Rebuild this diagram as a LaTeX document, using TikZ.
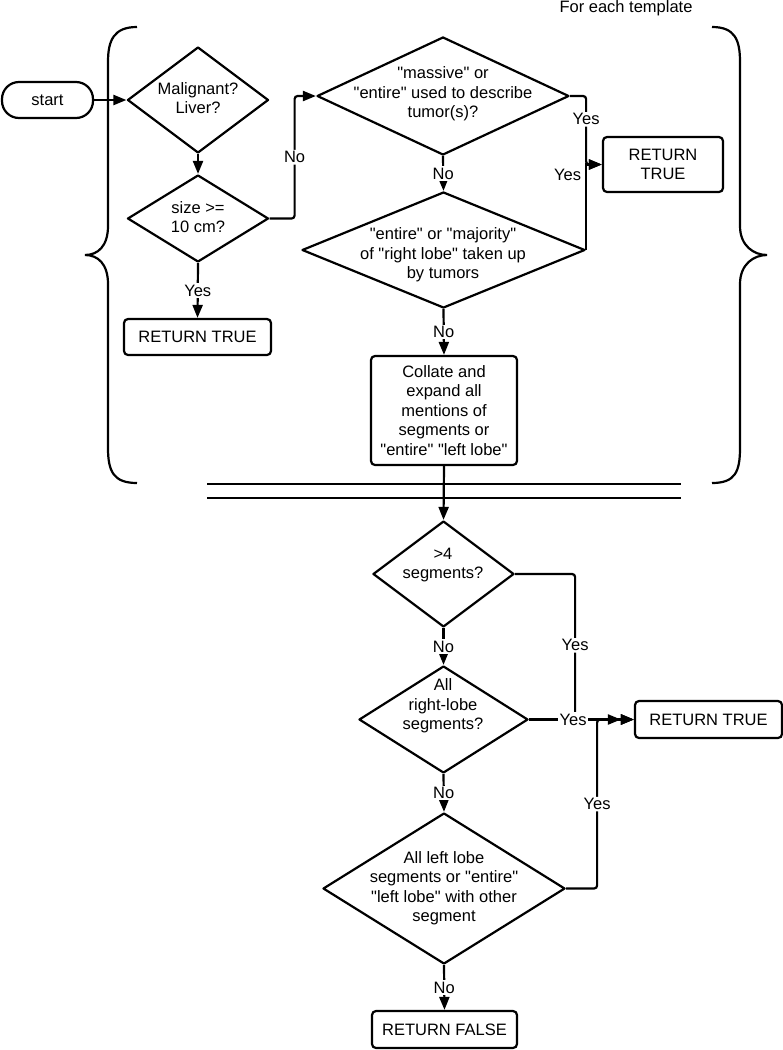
\documentclass[tikz,border=0pt]{standalone}
\usepackage{fontspec}
\setmainfont{Liberation Sans}
\usetikzlibrary{shapes.geometric,arrows.meta}
\newcommand{\diagfont}{\fontsize{16.5}{19.5}\selectfont}
\newcommand{\dq}{\textquotedbl}
\begin{document}
\begin{tikzpicture}[x=1pt,y=-1pt,
  line width=2.2pt,
  dia/.style={draw, shape=diamond, inner sep=0pt, line join=round},
  txt/.style={align=center, font=\diagfont, inner sep=0pt},
  box/.style={draw, rounded corners=4pt, inner sep=0pt, align=center, font=\diagfont},
  arr/.style={-{Triangle[length=13pt,width=10pt]}},
  darr/.style={-{Triangle[length=13pt,width=10pt]Triangle[length=13pt,width=10pt]}},
  lbl/.style={fill=white, inner sep=1.5pt, font=\diagfont},
  plain/.style={inner sep=1pt, font=\diagfont},
  rc/.style={rounded corners=3pt},
]
\useasboundingbox (0,0) rectangle (783,1050);

% title
\node[plain] (title) at (626,8) {For each template};

% braces
\draw (137,27) .. controls (114,27) and (108,40) .. (108,62) -- (108,226)
  .. controls (108,246) and (98,255) .. (85,255)
  .. controls (98,255) and (108,264) .. (108,284) -- (108,448)
  .. controls (108,472) and (114,483) .. (137,483);
\draw (712,27) .. controls (735,27) and (740,40) .. (740,62) -- (740,226)
  .. controls (740,246) and (754,255) .. (767,255)
  .. controls (754,255) and (740,264) .. (740,284) -- (740,448)
  .. controls (740,472) and (735,483) .. (712,483);

% double separator
\draw (207,484) -- (681,484);
\draw (207,498) -- (681,498);

% nodes
\node[box, minimum width=91pt, minimum height=36pt, rounded corners=17pt] (start) at (47.5,100) {start};
\node[dia, minimum width=141pt, minimum height=106pt] (d1) at (198,100) {};
\node[txt] (t1) at (198,98) {Malignant?\\Liver?};
\node[dia, minimum width=141pt, minimum height=87pt] (d2) at (198,218.5) {};
\node[txt] (t2) at (198,217) {size >=\\10 cm?};
\node[box, minimum width=147pt, minimum height=36pt] (r1) at (197.5,337) {RETURN TRUE};
\node[dia, minimum width=252pt, minimum height=118pt] (d3) at (443,96) {};
\node[txt] (t3) at (443,94) {\dq massive\dq{} or\\\dq entire\dq{} used to describe\\tumor(s)?};
\node[box, minimum width=120pt, minimum height=55pt] (r2) at (663,164.5) {RETURN\\TRUE};
\node[dia, minimum width=283pt, minimum height=116pt] (d4) at (443.5,250) {};
\node[txt] (t4) at (443,255) {\dq entire\dq{} or \dq majority\dq\\of \dq right lobe\dq{} taken up\\by tumors};
\node[box, minimum width=146pt, minimum height=109pt] (r3) at (444,410.5) {Collate and\\expand all\\mentions of\\segments or\\\dq entire\dq{} \dq left lobe\dq};
\node[dia, minimum width=141pt, minimum height=106pt] (d5) at (443.5,574) {};
\node[txt] (t5) at (443,565) {>4\\segments?};
\node[dia, minimum width=169pt, minimum height=107pt] (d6) at (443.5,719.5) {};
\node[txt] (t6) at (443,706) {All\\right-lobe\\segments?};
\node[box, minimum width=147pt, minimum height=37pt] (r4) at (708.5,719.5) {RETURN TRUE};
\node[dia, minimum width=242pt, minimum height=151pt] (d7) at (444,888.5) {};
\node[txt] (t7) at (444,888) {All left lobe\\segments or \dq entire\dq\\\dq left lobe\dq{} with other\\segment};
\node[box, minimum width=145pt, minimum height=37pt] (r5) at (444.5,1029.5) {RETURN FALSE};

% connectors
\draw[arr] (start.east) -- (d1.west);
\draw[arr] (d1.south) -- (d2.north);
\draw[arr, rc] (d2.east) -- ++(25,0) |- node[lbl, pos=0.25] {No} (d3.west);
\draw[arr] (d2.south) -- node[lbl] {Yes} (r1.north);
\draw[arr, rc] (d3.east) -- ++(16,0) |- node[lbl, pos=0.17] {Yes} (r2.west);
\draw[arr] (d4.east) |- node[plain, pos=0.44, left=3pt] {Yes} (r2.west);
\draw[arr] (d3.south) -- node[lbl] {No} (d4.north);
\draw[arr] (d4.south) -- node[lbl] {No} (r3.north);
\draw[arr] (r3.south) -- (d5.north);
\draw[arr] (d5.south) -- node[lbl] {No} (d6.north);
\draw[arr, rc] (d5.east) -- ++(60,0) |- node[lbl, pos=0.245] {Yes} (r4.west);
\draw[arr, rc] (d7.east) -- ++(31,0) |- node[lbl, pos=0.25] {Yes} (r4.west);
\draw[darr] (d6.east) -- node[lbl, pos=0.42] {Yes} (r4.west);
\draw[arr] (d6.south) -- node[lbl] {No} (d7.north);
\draw[arr] (d7.south) -- node[lbl] {No} (r5.north);
\end{tikzpicture}
\end{document}
